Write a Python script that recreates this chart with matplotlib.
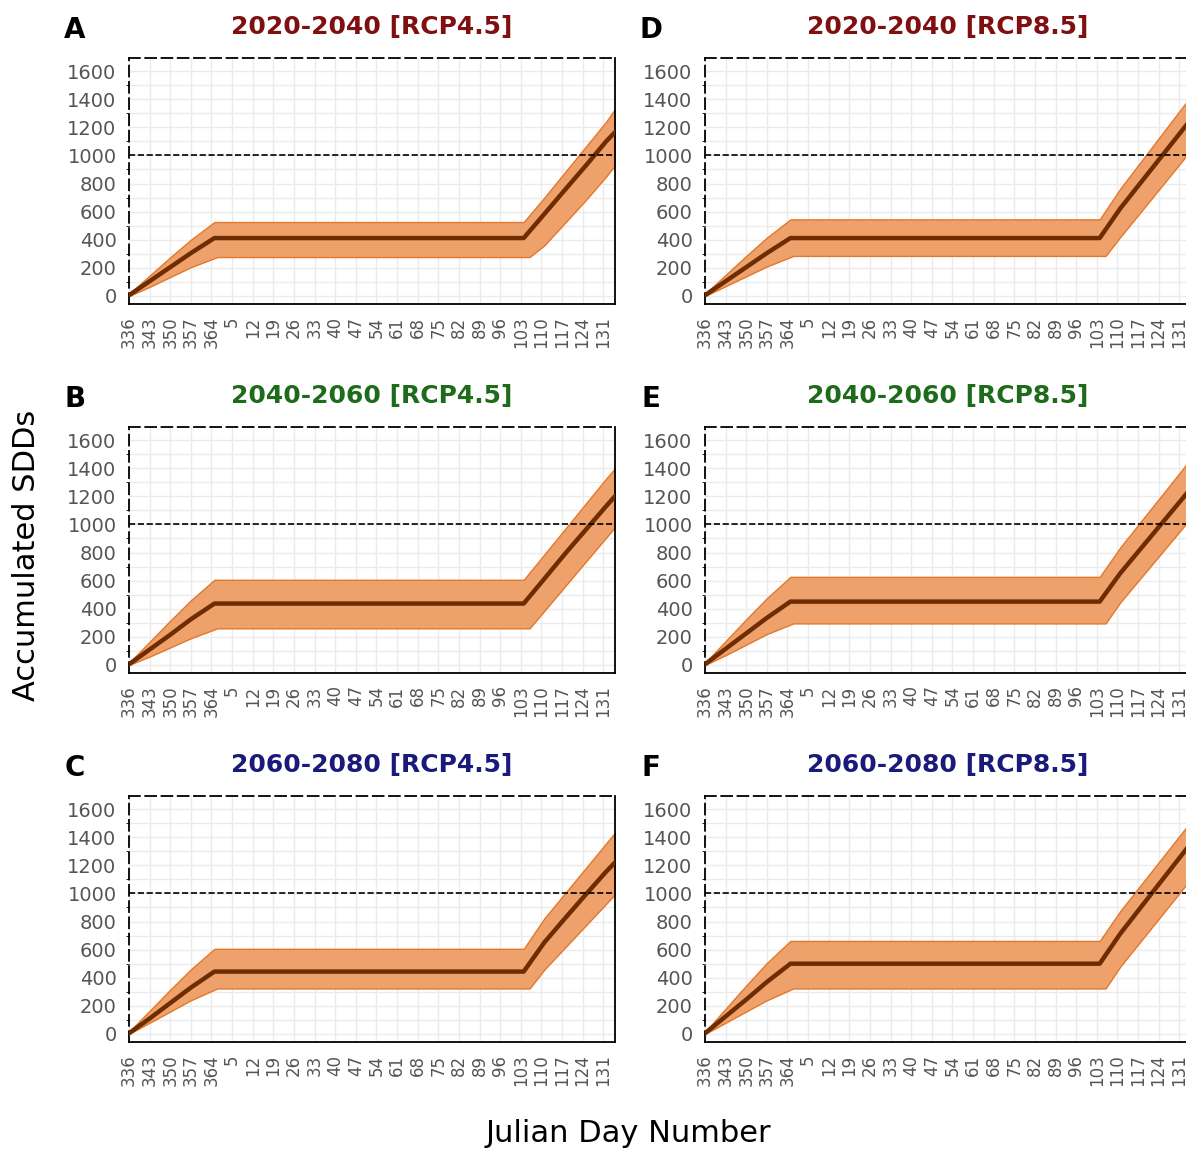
import numpy as np
import matplotlib.pyplot as plt

# dias desde el 336 (indice 0); el 131 del anio siguiente cae en el indice 161
tick_pos = list(range(0, 162, 7))
tick_labels = ['336', '343', '350', '357', '364', '5', '12', '19', '26', '33',
               '40', '47', '54', '61', '68', '75', '82', '89', '96', '103',
               '110', '117', '124', '131']

# puntos: [inicio ... fin de acumulacion, fin de meseta ... final]
x_med = [0, 7, 14, 21, 29, 134, 141, 148, 155, 162, 165]
x_low = [0, 7, 14, 21, 30, 136, 141, 148, 155, 162, 165]

titles = ['2020-2040 [RCP4.5]', '2040-2060 [RCP4.5]', '2060-2080 [RCP4.5]',
          '2020-2040 [RCP8.5]', '2040-2060 [RCP8.5]', '2060-2080 [RCP8.5]']
letters = ['A', 'B', 'C', 'D', 'E', 'F']
title_colors = ['#7F0F10', '#1E6B1A', '#1A1A7A'] * 2

med_A = [5, 105, 205, 305, 412, 412, 583, 755, 925, 1100, 1165]
up_A = [15, 145, 275, 400, 526, 526, 700, 880, 1060, 1240, 1330]
low_A = [0, 65, 135, 205, 277, 277, 360, 520, 680, 850, 930]

med_B = [5, 110, 215, 325, 437, 437, 613, 790, 960, 1130, 1200]
up_B = [15, 165, 315, 460, 606, 606, 786, 966, 1146, 1326, 1400]
low_B = [0, 60, 125, 190, 261, 261, 385, 559, 733, 906, 980]

med_C = [5, 110, 220, 330, 444, 444, 651, 822, 990, 1155, 1220]
up_C = [15, 165, 315, 460, 606, 606, 822, 1000, 1178, 1356, 1432]
low_C = [0, 80, 160, 240, 324, 324, 458, 614, 770, 926, 993]

med_D = [5, 105, 205, 305, 412, 412, 623, 808, 993, 1178, 1257]
up_D = [15, 150, 285, 415, 545, 545, 764, 956, 1148, 1340, 1422]
low_D = [0, 70, 140, 210, 285, 285, 420, 600, 780, 960, 1040]

med_E = [5, 115, 225, 335, 451, 451, 653, 829, 1005, 1181, 1257]
up_E = [15, 170, 325, 475, 627, 627, 837, 1021, 1205, 1389, 1468]
low_E = [0, 70, 145, 220, 296, 296, 446, 621, 796, 971, 1046]

med_F = [5, 125, 245, 370, 500, 500, 714, 902, 1090, 1277, 1358]
up_F = [15, 180, 345, 505, 662, 662, 875, 1061, 1247, 1433, 1513]
low_F = [0, 80, 160, 240, 324, 324, 480, 662, 844, 1026, 1104]

series = [(med_A, up_A, low_A), (med_B, up_B, low_B), (med_C, up_C, low_C),
          (med_D, up_D, low_D), (med_E, up_E, low_E), (med_F, up_F, low_F)]

W, H = 1186, 1149
fig = plt.figure(figsize=(W / 100, H / 100), dpi=100)

col_left = [129, 705]
row_top = [58, 427, 796]
aw, ah = 486, 246

for i in range(6):
    col, row = i // 3, i % 3
    ax = fig.add_axes([col_left[col] / W, 1 - (row_top[row] + ah) / H, aw / W, ah / H])
    med, up, low = series[i]

    # banda: upper y lower tienen distintos x, se evalua sobre una malla comun
    xs = np.arange(0, 166)
    up_i = np.interp(xs, x_med, up)
    low_i = np.interp(xs, x_low, low)
    ax.fill_between(xs, low_i, up_i, facecolor='#EFA16B', edgecolor='#E2782C',
                    linewidth=1.0, zorder=2)
    ax.plot(x_med, med, color='#6E2C00', linewidth=3.2, zorder=3)
    ax.axhline(1000, color='black', linestyle='--', linewidth=1.2, zorder=4)

    ax.set_xlim(0, 165)
    ax.set_ylim(-57, 1693)
    ax.set_xticks(tick_pos)
    ax.set_xticklabels(tick_labels, rotation=90)
    ax.set_yticks(range(0, 1601, 200))
    ax.set_yticks(range(100, 1700, 200), minor=True)
    ax.tick_params(axis='both', length=0, colors='#555555')
    ax.tick_params(axis='x', labelsize=12, pad=9)
    ax.tick_params(axis='y', labelsize=14, pad=9)
    ax.grid(True, which='both', color='#EBEBEB', linewidth=1.0, zorder=0)
    ax.set_axisbelow(True)

    for s in ['bottom', 'right']:
        ax.spines[s].set_color('black')
        ax.spines[s].set_linewidth(1.3)
    for s in ['top', 'left']:
        ax.spines[s].set_linestyle((0, (6, 3)))
        ax.spines[s].set_linewidth(1.3)

    ax.set_title(titles[i], color=title_colors[i], fontsize=18,
                 fontweight='bold', pad=17)
    fig.text((col_left[col] - 54) / W, 1 - (row_top[row] - 28) / H, letters[i],
             fontsize=20, fontweight='bold', ha='center', va='center')

fig.text(27 / W, 1 - 555 / H, 'Accumulated SDDs', rotation=90, fontsize=22,
         ha='center', va='center')
fig.text(628 / W, 1 - 1133 / H, 'Julian Day Number', fontsize=22,
         ha='center', va='center')

plt.savefig('out.png', dpi=100)
